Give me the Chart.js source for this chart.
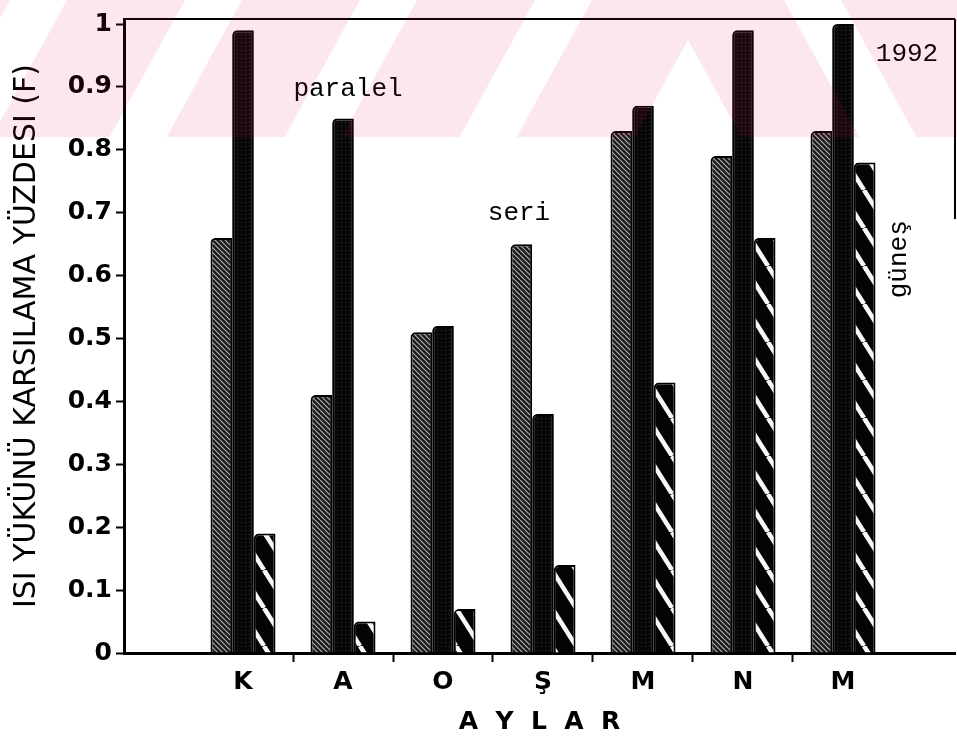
<!DOCTYPE html>
<html>
<head>
<meta charset="utf-8">
<script src="https://cdn.jsdelivr.net/npm/chart.js@4.4.1/dist/chart.umd.min.js"></script>
<style>
  html, body { margin: 0; padding: 0; background: #ffffff; }
  #wrap { width: 957px; height: 742px; }
</style>
</head>
<body>
<div id="wrap"><canvas id="c" width="957" height="742"></canvas></div>
<script>
// Months of the heating season and the fraction of the heating load met (F), 1992
const months  = ['K', 'A', 'O', 'Ş', 'M', 'N', 'M'];
const seri    = [0.66, 0.41, 0.51, 0.65, 0.83, 0.79, 0.83];
const paralel = [0.99, 0.85, 0.52, 0.38, 0.87, 0.99, 1.00];
const gunes   = [0.19, 0.05, 0.07, 0.14, 0.43, 0.66, 0.78];
const yTickValues = [0, 0.1, 0.2, 0.3, 0.4, 0.5, 0.6, 0.7, 0.8, 0.9, 1];
const yTickLabels = ['0', '0.1', '0.2', '0.3', '0.4', '0.5', '0.6', '0.7', '0.8', '0.9', '1'];

const canvas = document.getElementById('c');
const ctx = canvas.getContext('2d');

// Small repeating tiles used as bar fills
function tile(w, h, paint) {
  const t = document.createElement('canvas');
  t.width = w; t.height = h;
  paint(t.getContext('2d'), w, h);
  return ctx.createPattern(t, 'repeat');
}
const seriFill = tile(5, 5, (g, w, h) => {
  g.fillStyle = '#1c1c1c'; g.fillRect(0, 0, w, h);
  g.strokeStyle = '#b8b8b8'; g.lineWidth = 1.1;
  for (const o of [-w, 0, w]) { g.beginPath(); g.moveTo(o, 0); g.lineTo(o + w, h); g.stroke(); }
});
const paralelFill = tile(4, 4, (g, w, h) => {
  g.fillStyle = '#070707'; g.fillRect(0, 0, w, h);
  g.fillStyle = '#353535'; g.fillRect(1, 2, 1, 1);
});
const gunesFill = tile(24, 38, (g, w, h) => {
  g.fillStyle = '#040404'; g.fillRect(0, 0, w, h);
  g.strokeStyle = '#f8f8f8'; g.lineWidth = 4.5;
  for (const o of [-w, 0, w]) { g.beginPath(); g.moveTo(o, 0); g.lineTo(o + w, h); g.stroke(); }
});

const toPoints = arr => arr.map((v, i) => ({ x: i, y: v }));

const barStyle = {
  borderColor: '#000000',
  borderWidth: 2,
  borderSkipped: 'start',
  borderRadius: { topLeft: 5, topRight: 0, bottomLeft: 0, bottomRight: 0 },
  categoryPercentage: 0.65,
  barPercentage: 1.0
};

// Frame, series captions and the striped band across the top of the page
const decor = {
  id: 'decor',
  afterDraw(chart) {
    const c = chart.ctx;
    const { left, right, top } = chart.chartArea;
    const xs = chart.scales.x, ys = chart.scales.y;

    c.save();
    c.strokeStyle = '#000'; c.lineWidth = 2;
    c.beginPath(); c.moveTo(left, top); c.lineTo(right, top); c.stroke();
    c.beginPath(); c.moveTo(right, top); c.lineTo(right, ys.getPixelForValue(0.69)); c.stroke();

    c.fillStyle = '#000';
    c.font = '26px "Liberation Mono", "DejaVu Sans Mono", monospace';
    c.textAlign = 'center'; c.textBaseline = 'middle';
    c.fillText('paralel', xs.getPixelForValue(1.05), ys.getPixelForValue(0.896));
    c.fillText('seri', xs.getPixelForValue(2.76), ys.getPixelForValue(0.70));
    c.fillText('1992', xs.getPixelForValue(6.64), ys.getPixelForValue(0.952));
    c.save();
    c.translate(xs.getPixelForValue(6.56), ys.getPixelForValue(0.626));
    c.rotate(-Math.PI / 2);
    c.fillText('güneş', 0, 0);
    c.restore();
    c.restore();

    // pink chevron stripes along the top edge
    const W = chart.width, bandH = 137, apex = 688, period = 175, pinkW = 118, s = 0.55;
    c.save();
    c.beginPath(); c.rect(0, 0, W, bandH); c.clip();
    c.fillStyle = 'rgba(225, 30, 70, 0.10)';
    const u0 = apex + 40 * s - pinkW;
    // left half: stripes leaning '/'
    c.save(); c.beginPath(); c.rect(0, 0, apex, bandH); c.clip();
    for (let k = 0; k < 7; k++) {
      const u = u0 - k * period;
      c.beginPath();
      c.moveTo(u, 0); c.lineTo(u + pinkW, 0);
      c.lineTo(u + pinkW - s * bandH, bandH); c.lineTo(u - s * bandH, bandH);
      c.closePath(); c.fill();
    }
    c.restore();
    // right half: mirrored, leaning '\'
    c.save(); c.beginPath(); c.rect(apex, 0, W - apex, bandH); c.clip();
    for (let k = 0; k < 7; k++) {
      const u = u0 - k * period;
      const a = 2 * apex - u - pinkW, b = 2 * apex - u;
      c.beginPath();
      c.moveTo(a, 0); c.lineTo(b, 0);
      c.lineTo(b + s * bandH, bandH); c.lineTo(a + s * bandH, bandH);
      c.closePath(); c.fill();
    }
    c.restore();
    c.restore();
  }
};

new Chart(ctx, {
  type: 'bar',
  data: {
    datasets: [
      Object.assign({ label: 'seri', data: toPoints(seri), backgroundColor: seriFill }, barStyle),
      Object.assign({ label: 'paralel', data: toPoints(paralel), backgroundColor: paralelFill }, barStyle),
      Object.assign({ label: 'güneş', data: toPoints(gunes), backgroundColor: gunesFill }, barStyle)
    ]
  },
  options: {
    responsive: false,
    animation: false,
    events: [],
    layout: { padding: { top: 15, right: 2, left: 0, bottom: 0 } },
    plugins: { legend: { display: false }, tooltip: { enabled: false } },
    scales: {
      x: {
        type: 'linear',
        min: -1.19,
        max: 7.12,
        offset: false,
        afterBuildTicks: s => { s.ticks = months.map((m, i) => ({ value: i })); },
        afterFit: s => { s.height = 89; },
        grid: {
          offset: true,
          drawOnChartArea: false,
          drawTicks: true,
          tickLength: 9,
          tickWidth: 2,
          tickColor: c => (c.type === 'tick' && c.index >= 1) ? '#000' : 'rgba(0,0,0,0)'
        },
        border: { display: true, color: '#000', width: 3 },
        ticks: {
          autoSkip: false,
          maxRotation: 0,
          padding: 5,
          color: '#000',
          font: { family: 'DejaVu Sans', size: 25, weight: 'bold' },
          callback: (v, i) => months[i]
        },
        title: {
          display: true,
          text: 'A  Y  L  A  R',
          color: '#000',
          font: { family: 'DejaVu Sans', size: 25, weight: 'bold' },
          padding: { top: 0, bottom: 5 }
        }
      },
      y: {
        min: 0,
        max: 1.008,
        afterBuildTicks: s => { s.ticks = yTickValues.map(v => ({ value: v })); },
        afterFit: s => { s.width = 124; },
        grid: {
          drawOnChartArea: false,
          drawTicks: true,
          tickLength: 8,
          tickWidth: 2,
          tickColor: '#000'
        },
        border: { display: true, color: '#000', width: 3 },
        ticks: {
          padding: 4,
          color: '#000',
          font: { family: 'DejaVu Sans', size: 25, weight: 'bold' },
          callback: (v, i) => yTickLabels[i]
        },
        title: {
          display: true,
          text: 'ISI YÜKÜNÜ KARSILAMA YÜZDESI (F)',
          color: '#000',
          font: { family: 'DejaVu Sans', size: 30 },
          padding: { top: 9, bottom: 0 }
        }
      }
    }
  },
  plugins: [decor]
});
</script>
</body>
</html>
